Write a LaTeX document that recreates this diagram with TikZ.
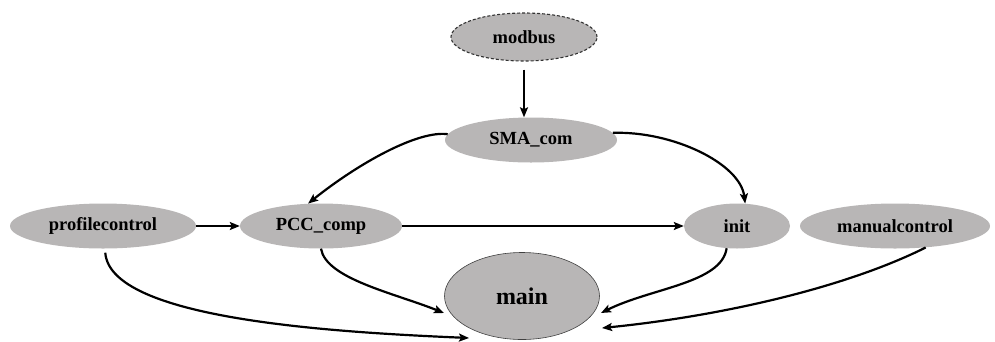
\documentclass[tikz,border=0pt]{standalone}
\usepackage{fontspec}
\setmainfont{Liberation Serif}
\usetikzlibrary{shapes.geometric,arrows.meta}
\definecolor{nodegray}{RGB}{184,182,182}
\tikzset{
  ell/.style={ellipse, fill=nodegray, inner sep=0pt, font=\fontsize{18.5}{20}\selectfont\bfseries},
  conn/.style={line width=2.2pt, -{Stealth[length=10pt,width=8pt,inset=2pt]}}
}
\begin{document}
\begin{tikzpicture}[x=1pt,y=-1pt]
\useasboundingbox (0,0) rectangle (995,341);
\node[ell, draw=black!80, dashed, line width=1.1pt, dash pattern=on 3pt off 2pt, minimum width=146, minimum height=48] (modbus) at (524,37) {modbus};
\node[ell, minimum width=172, minimum height=45] (sma) at (531,140) {SMA\_com};
\node[ell, minimum width=186, minimum height=45] (pc) at (103,226) {profilecontrol};
\node[ell, minimum width=162, minimum height=45] (pcc) at (321,226) {PCC\_comp};
\node[ell, minimum width=106, minimum height=45] (init) at (737,226) {init};
\node[ell, minimum width=190, minimum height=45] (mc) at (895,226) {manualcontrol};
\node[ell, draw=black!75, line width=0.6pt, minimum width=155, minimum height=87, font=\fontsize{24}{26}\selectfont\bfseries] (main) at (522,296) {main};

\draw[conn, shorten <=8pt] (modbus.south) -- (modbus.south |- sma.north);
\draw[conn] (pc) -- (pcc);
\draw[conn] (pcc) -- (init);
\draw[conn] (sma.176) .. controls +(-30,-4) and +(50,-40) .. (pcc.120);
\draw[conn] (sma.5) .. controls +(60,-2) and +(-5,-40) .. (init.70);
\draw[conn, shorten <=4pt] (pc.275) .. controls +(5,70) and +(-140,-6) .. ([shift={(-53,42)}]main.center);
\draw[conn] (pcc.south) .. controls +(5,30) and +(-50,-20) .. ([shift={(-78,17)}]main.center);
\draw[conn] (init.245) .. controls +(-5,35) and +(50,-25) .. ([shift={(79,17)}]main.center);
\draw[conn] (mc.325) .. controls +(-80,40) and +(120,-12) .. ([shift={(80,32)}]main.center);
\end{tikzpicture}
\end{document}
